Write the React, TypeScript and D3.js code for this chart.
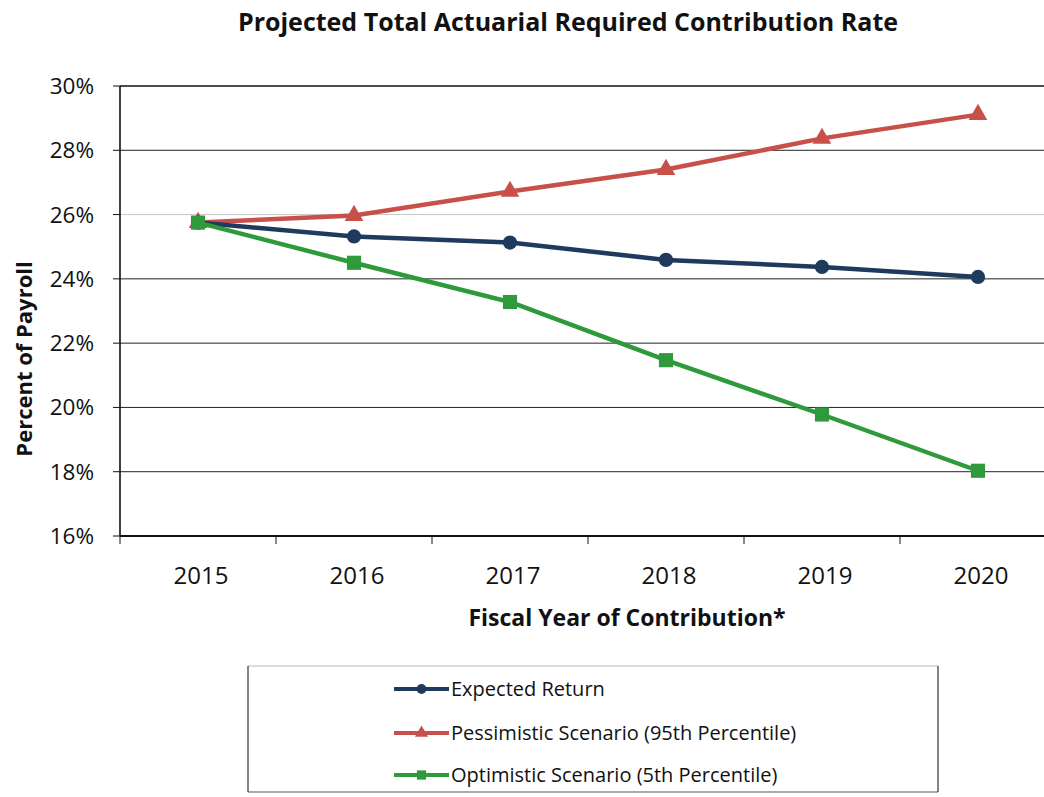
import React from "react";
import * as d3 from "d3";

const years = ["2015", "2016", "2017", "2018", "2019", "2020"];
const expectedReturn = [25.75, 25.32, 25.13, 24.59, 24.37, 24.06];
const pessimistic = [25.75, 25.97, 26.72, 27.4, 28.37, 29.11];
const optimistic = [25.75, 24.5, 23.28, 21.47, 19.78, 18.03];
const yTicks = [16, 18, 20, 22, 24, 26, 28, 30];

const seriesNames = [
  "Expected Return",
  "Pessimistic Scenario (95th Percentile)",
  "Optimistic Scenario (5th Percentile)",
];

const W = 1044;
const H = 797;
const FONT = "'Open Sans', sans-serif";

export default function App() {
  const left = 120;
  const right = 1056;
  const top = 86;
  const bottom = 536;

  const x = d3.scalePoint<string>().domain(years).range([left, right]).padding(0.5);
  const band = x.step();
  const y = d3.scaleLinear().domain([16, 30]).range([bottom, top]);

  const series = [
    { name: seriesNames[0], values: expectedReturn, color: "#1e3a5c", marker: "circle" },
    { name: seriesNames[1], values: pessimistic, color: "#c8504a", marker: "triangle" },
    { name: seriesNames[2], values: optimistic, color: "#2e9a3c", marker: "square" },
  ];

  const line = d3
    .line<number>()
    .x((_, i) => x(years[i]) as number)
    .y((d) => y(d));

  const symbolFor = (m: string) => {
    if (m === "circle") return d3.symbol().type(d3.symbolCircle).size(160)();
    if (m === "triangle") return d3.symbol().type(d3.symbolTriangle).size(150)();
    return d3.symbol().type(d3.symbolSquare).size(200)();
  };
  const legendSymbol = (m: string) => {
    if (m === "circle") return d3.symbol().type(d3.symbolCircle).size(75)();
    if (m === "triangle") return d3.symbol().type(d3.symbolTriangle).size(75)();
    return d3.symbol().type(d3.symbolSquare).size(85)();
  };

  const boundaries = d3.range(years.length + 1).map((i) => left + i * band);

  const drawOrder = [series[1], series[0], series[2]];

  const legendX0 = 394;
  const legendX1 = 449;
  const legendYs = [689, 733, 775];

  return (
    <svg
      width={W}
      height={H}
      style={{ position: "absolute", left: 0, top: 0, background: "#fff" }}
      fontFamily={FONT}
    >
      <rect x={0} y={0} width={W} height={H} fill="#fff" />
      <text x={568} y={31} textAnchor="middle" fontSize={25} fontWeight="bold" fill="#111">
        Projected Total Actuarial Required Contribution Rate
      </text>

      {yTicks.map((t) => (
        <line
          key={"g" + t}
          x1={left}
          x2={W}
          y1={y(t)}
          y2={y(t)}
          stroke={t === 26 ? "#c8c8c8" : t === 30 ? "#111" : "#222"}
          strokeWidth={t === 30 ? 1.6 : 1}
        />
      ))}
      {yTicks.map((t) => (
        <line key={"yt" + t} x1={left - 7} x2={left} y1={y(t)} y2={y(t)} stroke="#111" strokeWidth={1} />
      ))}
      <line x1={left} x2={left} y1={top} y2={bottom} stroke="#111" strokeWidth={1.6} />
      <line x1={left} x2={W} y1={bottom} y2={bottom} stroke="#111" strokeWidth={2} />
      {boundaries.map((b, i) => (
        <line key={"xt" + i} x1={b} x2={b} y1={bottom} y2={bottom + 8} stroke="#111" strokeWidth={1} />
      ))}

      {yTicks.map((t) => (
        <text key={"yl" + t} x={94} y={y(t) + 8} textAnchor="end" fontSize={22.5} fill="#111">
          {t}%
        </text>
      ))}
      {years.map((yr) => (
        <text key={"xl" + yr} x={(x(yr) as number) + 3} y={584} textAnchor="middle" fontSize={24} fill="#111">
          {yr}
        </text>
      ))}

      <text
        transform={`translate(32, 359) rotate(-90)`}
        textAnchor="middle"
        fontSize={22}
        fontWeight="bold"
        fill="#111"
      >
        Percent of Payroll
      </text>
      <text x={627} y={626} textAnchor="middle" fontSize={23} fontWeight="bold" fill="#111">
        Fiscal Year of Contribution*
      </text>

      {drawOrder.map((s) => (
        <g key={s.name}>
          <path d={line(s.values) as string} fill="none" stroke={s.color} strokeWidth={4.5} />
          {s.values.map((v, i) => (
            <path
              key={i}
              d={symbolFor(s.marker) as string}
              transform={`translate(${x(years[i])},${y(v)})`}
              fill={s.color}
            />
          ))}
        </g>
      ))}

      <line x1={248} x2={938} y1={666} y2={666} stroke="#bbb" strokeWidth={1} />
      <line x1={248} x2={248} y1={666} y2={792} stroke="#333" strokeWidth={1.2} />
      <line x1={938} x2={938} y1={666} y2={792} stroke="#333" strokeWidth={1.2} />
      <line x1={248} x2={938} y1={792} y2={792} stroke="#555" strokeWidth={1.2} />
      {series.map((s, i) => (
        <g key={"lg" + i}>
          <line
            x1={legendX0}
            x2={legendX1}
            y1={legendYs[i]}
            y2={legendYs[i]}
            stroke={s.color}
            strokeWidth={4}
          />
          <path
            d={legendSymbol(s.marker) as string}
            transform={`translate(${(legendX0 + legendX1) / 2},${legendYs[i]})`}
            fill={s.color}
          />
          <text x={451} y={legendYs[i] + 7} fontSize={20} fill="#111">
            {s.name}
          </text>
        </g>
      ))}
    </svg>
  );
}
